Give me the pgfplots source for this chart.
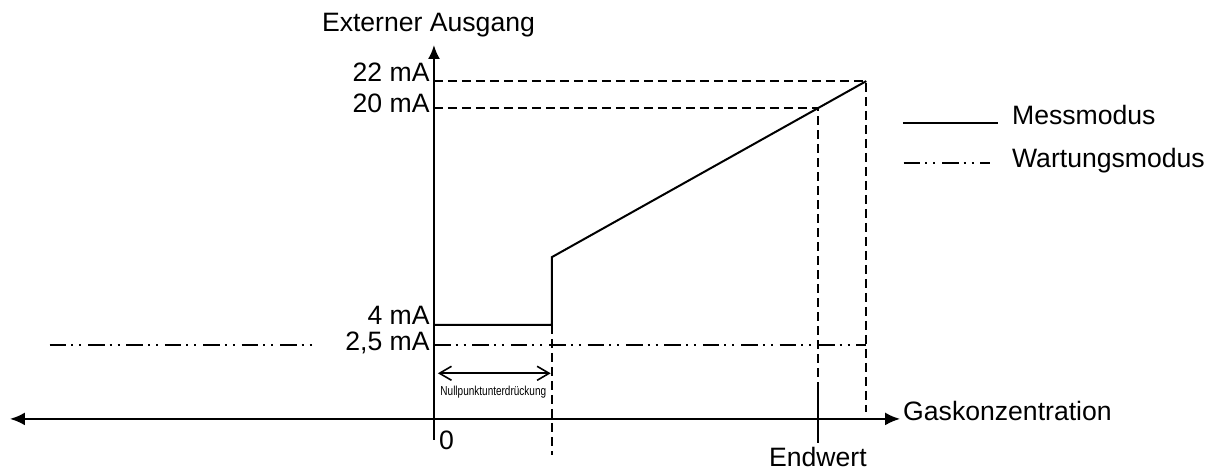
\documentclass[border=0pt]{standalone}
\usepackage{fontspec}
\setmainfont{Liberation Sans}
\usepackage{pgfplots}
\pgfplotsset{compat=1.18}
\usetikzlibrary{arrows.meta}

\tikzset{
  mess/.style={line width=1pt},
  wartung/.style={line width=0.9pt, dash pattern=on 8.3pt off 2.5pt on 1pt off 3pt on 1pt off 3.4pt},
  hilf/.style={line width=0.9pt, dash pattern=on 4.5pt off 2.5pt},
}

\begin{document}
\begin{tikzpicture}[font=\fontsize{13.3}{16}\selectfont]
\begin{axis}[
  x=1.965pt, y=6.77pt,
  xmin=0, xmax=110, ymin=-4.5, ymax=24.67,
  axis x line=none, axis y line*=left,
  y axis line style={-{Latex[length=7pt,width=6pt]}, line width=1.1pt},
  xtick=\empty,
  ytick={2.5,4,20,22},
  yticklabels={{\raisebox{-2.5pt}{2,5 mA}},{4 mA},{\raisebox{-2pt}{20 mA}},{22 mA}},
  major tick length=0pt,
  tick label style={font=\fontsize{13.3}{16}\selectfont},
  yticklabel style={anchor=base east, inner sep=0pt, xshift=-2pt},
  clip=false,
]
% whole picture area
\path (axis cs:-110.43,-6.72) rectangle (axis cs:199.24,27.99);

% Hilfslinien
\addplot[hilf] coordinates {(0,22) (110,22) (110,-2.44)};
\addplot[hilf] coordinates {(0,20) (97.7,20) (97.7,-0.3)};
\addplot[hilf] coordinates {(30,4) (30,-5.61)};
\addplot[line width=0.9pt] coordinates {(97.7,-0.3) (97.7,-4.73)};

% Messmodus
\addplot[mess] coordinates {(0,4) (30,4) (30,9) (110,22)};

% Wartungsmodus
\addplot[wartung] coordinates {(0,2.5) (110,2.5)};
\addplot[wartung] coordinates {(-97.8,2.5) (-29.8,2.5)};

% x-Achse
\draw[{Latex[length=7.5pt,width=6.5pt]}-{Latex[length=7.5pt,width=6.5pt]}, line width=1.1pt]
  (axis cs:-107.9,-2.95) -- (axis cs:118.6,-2.95);

% Nullpunktunterdrueckung
\draw[{Straight Barb[length=6pt,width=7pt]}-{Straight Barb[length=6pt,width=7pt]}, line width=0.8pt]
  (axis cs:1.0,0.42) -- (axis cs:29.7,0.42);
\node[inner sep=0pt] at (axis cs:15.1,-0.96)
  {\scalebox{0.77}[1]{\fontsize{6.5}{7}\selectfont Nullpunktunterdrückung}};

% Beschriftungen
\node[anchor=base, inner sep=0pt] at (axis cs:-1.4,25.7) {Externer Ausgang};
\node[anchor=base west, inner sep=0pt] at (axis cs:119.3,-3.1) {Gaskonzentration};
\node[anchor=base, inner sep=0pt] at (axis cs:97.7,-6.5) {Endwert};
\node[anchor=base west, inner sep=0pt] at (axis cs:1.2,-5.24) {0};

% Legende
\draw[mess] (axis cs:119.3,18.93) -- (axis cs:143.5,18.93);
\node[anchor=base west, inner sep=0pt] at (axis cs:147.0,18.76) {Messmodus};
\draw[wartung] (axis cs:119.5,15.97) -- (axis cs:141.5,15.97);
\node[anchor=base west, inner sep=0pt] at (axis cs:147.0,15.65) {Wartungsmodus};
\end{axis}
\end{tikzpicture}
\end{document}
